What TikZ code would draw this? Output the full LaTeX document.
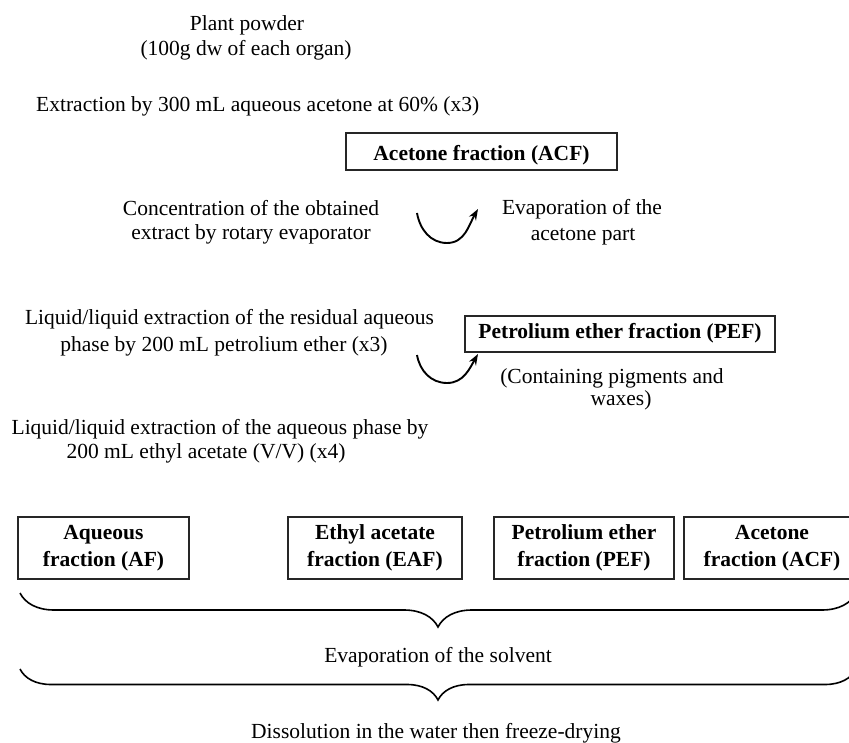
\documentclass[tikz,border=0pt]{standalone}
\usepackage{fontspec}
\setmainfont{Liberation Serif}
\usetikzlibrary{arrows.meta,decorations.pathreplacing}
\begin{document}
\begin{tikzpicture}[x=1pt,y=-1pt,
  txt/.style={font=\fontsize{21.5pt}{27pt}\selectfont, inner sep=0pt, anchor=base},
  bx/.style={draw=black!85, line width=1.3pt, font=\fontsize{21.5pt}{27pt}\selectfont\bfseries, align=center, inner sep=0pt},
  cyc/.style={line width=1.9pt, -{Stealth[length=11pt,width=8pt]}},
  brc/.style={line width=1.6pt, decorate, decoration={brace,mirror,amplitude=#1}}]
\useasboundingbox (0,0) rectangle (849,743);
\clip (0,0) rectangle (849,743);

\node[txt] (pp) at (247,31) {Plant powder};
\node[txt] (pp2) at (246,56) {(100g dw of each organ)};
\node[txt,anchor=base west] (ext) at (36,112) {Extraction by 300 mL aqueous acetone at 60\% (x3)};

\node[bx,anchor=base,text height=28pt,text depth=9pt,minimum width=271pt] (acf) at (481.5,161) {Acetone fraction (ACF)};

\node[txt] (conc1) at (251,216) {Concentration of the obtained};
\node[txt] (conc2) at (251,240) {extract by rotary evaporator};
\node[txt] (evap1) at (582,215) {Evaporation of the};
\node[txt] (evap2) at (583,241) {acetone part};

\coordinate (c1s) at (417,213);
\coordinate (c1b) at (447,243);
\coordinate (c1e) at (478,209);
\draw[cyc] (c1s) to[out=-80,in=180] (c1b) to[out=0,in=-120] (c1e);

\node[txt] (liq1) at (229.5,325) {Liquid/liquid extraction of the residual aqueous};
\node[txt] (liq2) at (224,352) {phase by 200 mL petrolium ether (x3)};

\node[bx,anchor=base,text height=23pt,text depth=13pt,minimum width=310pt] (pef) at (620,339) {Petrolium ether fraction (PEF)};

\coordinate (c2s) at (417,355);
\coordinate (c2b) at (447,383);
\coordinate (c2e) at (478,354);
\draw[cyc] (c2s) to[out=-80,in=180] (c2b) to[out=0,in=-120] (c2e);

\node[txt] (cont1) at (612,383) {(Containing pigments and};
\node[txt] (cont2) at (621,406) {waxes)};

\node[txt] (liqb1) at (220,434) {Liquid/liquid extraction of the aqueous phase by};
\node[txt] (liqb2) at (206,458) {200 mL ethyl acetate (V/V) (x4)};

\node[bx,minimum width=171pt,minimum height=62pt] (af) at (103.5,548) {Aqueous\\fraction (AF)};
\node[bx,minimum width=174pt,minimum height=62pt] (eaf) at (375,548) {Ethyl acetate\\fraction (EAF)};
\node[bx,minimum width=180pt,minimum height=62pt] (pef2) at (584,548) {Petrolium ether\\fraction (PEF)};
\node[bx,minimum width=176pt,minimum height=62pt] (acf2) at (772,548) {Acetone\\fraction (ACF)};

\coordinate (b1l) at (20,593);
\coordinate (b1r) at (856,593);
\draw[brc=34pt] (b1l) -- (b1r);
\node[txt] (evs) at (438,662) {Evaporation of the solvent};

\coordinate (b2l) at (20,669);
\coordinate (b2r) at (856,669);
\draw[brc=31pt] (b2l) -- (b2r);
\node[txt] (diss) at (436,738) {Dissolution in the water then freeze-drying};
\end{tikzpicture}
\end{document}
